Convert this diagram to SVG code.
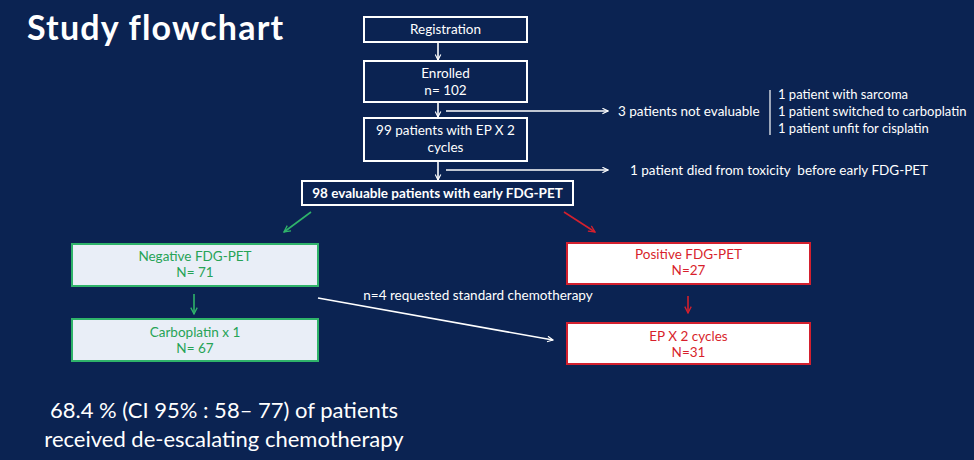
<svg xmlns="http://www.w3.org/2000/svg" width="974" height="460" viewBox="0 0 974 460">
<defs>
<style>
text{font-family:Lato,"Noto Sans","Liberation Sans",sans-serif;}
.w{fill:#ffffff;font-size:13.5px;}
.ws{fill:#ffffff;font-size:13px;}
.c{text-anchor:middle;}
.box{fill:none;stroke:#ffffff;stroke-width:2;}
.gbox{fill:#e9eef7;stroke:#2fb36a;stroke-width:2;}
.rbox{fill:#ffffff;stroke:#d3202e;stroke-width:2;}
.g{fill:#26a356;font-size:13.5px;text-anchor:middle;}
.r{fill:#d81f2c;font-size:13.5px;text-anchor:middle;}
.lw{stroke:#ffffff;stroke-width:1.6;fill:none;}
.lg{stroke:#2fb36a;stroke-width:1.6;fill:none;}
.lr{stroke:#d3202e;stroke-width:1.6;fill:none;}
</style>
<marker id="aw" viewBox="0 0 10 10" refX="9" refY="5" markerWidth="7" markerHeight="7" orient="auto" markerUnits="userSpaceOnUse"><path d="M1,1 L9,5 L1,9" fill="none" stroke="#ffffff" stroke-width="1.6"/></marker>
<marker id="ag" viewBox="0 0 10 10" refX="9" refY="5" markerWidth="8" markerHeight="8" orient="auto" markerUnits="userSpaceOnUse"><path d="M1,1 L9,5 L1,9" fill="none" stroke="#2fb36a" stroke-width="1.6"/></marker>
<marker id="ar" viewBox="0 0 10 10" refX="9" refY="5" markerWidth="8" markerHeight="8" orient="auto" markerUnits="userSpaceOnUse"><path d="M1,1 L9,5 L1,9" fill="none" stroke="#d3202e" stroke-width="1.6"/></marker>
</defs>
<rect x="0" y="0" width="974" height="460" fill="#0b2352"/>
<text x="27" y="40" fill="#ffffff" font-size="34" font-weight="bold" letter-spacing="1.2">Study flowchart</text>

<g id="connectors">
<line class="lw" x1="438" y1="42" x2="438" y2="60" marker-end="url(#aw)"/>
<line class="lw" x1="438" y1="102" x2="438" y2="117" marker-end="url(#aw)"/>
<line class="lw" x1="438" y1="161" x2="438" y2="180" marker-end="url(#aw)"/>
<line class="lw" x1="446" y1="111" x2="608" y2="111" marker-end="url(#aw)"/>
<line class="lw" x1="446" y1="170" x2="608" y2="170" marker-end="url(#aw)"/>
<line class="lg" x1="311" y1="212" x2="284" y2="232" marker-end="url(#ag)"/>
<line class="lr" x1="564" y1="212" x2="595" y2="232" marker-end="url(#ar)"/>
<line class="lg" x1="194" y1="294" x2="194" y2="314" marker-end="url(#ag)"/>
<line class="lr" x1="688" y1="296" x2="688" y2="313" marker-end="url(#ar)"/>
<line class="lw" x1="318" y1="298" x2="553" y2="340" marker-end="url(#aw)"/>
<text class="w c" x="478" y="300">n=4 requested standard chemotherapy</text>
</g>

<g id="registration">
<rect class="box" x="364" y="17" width="163" height="25"/>
<text class="w c" x="445.5" y="34">Registration</text>
</g>
<g id="enrolled">
<rect class="box" x="364" y="61" width="163" height="41"/>
<text class="w c" x="445.5" y="78">Enrolled</text>
<text class="w c" x="445.5" y="95">n= 102</text>
</g>
<g id="ep99">
<rect class="box" x="364" y="118" width="163" height="43"/>
<text class="w c" x="445.5" y="135">99 patients with EP X 2</text>
<text class="w c" x="445.5" y="152">cycles</text>
</g>
<g id="evaluable98">
<rect class="box" x="302" y="181" width="271" height="24"/>
<text class="w c" x="437.5" y="198" font-weight="bold">98 evaluable patients with early FDG-PET</text>
</g>
<g id="notevaluable">
<text class="w" x="618" y="116">3 patients not evaluable</text>
<line x1="770" y1="90" x2="770" y2="135" stroke="#ffffff" stroke-width="1.2"/>
<text class="ws" x="778" y="99">1 patient with sarcoma</text>
<text class="ws" x="778" y="116">1 patient switched to carboplatin</text>
<text class="ws" x="778" y="133">1 patient unfit for cisplatin</text>
</g>
<g id="died">
<text class="w" x="630" y="175" xml:space="preserve">1 patient died from toxicity  before early FDG-PET</text>
</g>
<g id="negative">
<rect class="gbox" x="72" y="244" width="246" height="42"/>
<text class="g" x="195" y="261">Negative FDG-PET</text>
<text class="g" x="195" y="277">N= 71</text>
</g>
<g id="carboplatin">
<rect class="gbox" x="72" y="319" width="246" height="42"/>
<text class="g" x="195" y="337">Carboplatin x 1</text>
<text class="g" x="195" y="353">N= 67</text>
</g>
<g id="positive">
<rect class="rbox" x="567" y="243" width="243" height="41"/>
<text class="r" x="688.5" y="259">Positive FDG-PET</text>
<text class="r" x="688.5" y="275">N=27</text>
</g>
<g id="ep2">
<rect class="rbox" x="567" y="323" width="243" height="41"/>
<text class="r" x="688.5" y="341">EP X 2 cycles</text>
<text class="r" x="688.5" y="357">N=31</text>
</g>
<g id="summary">
<text class="c" x="224" y="418" fill="#ffffff" font-size="22">68.4 % (CI 95% : 58– 77) of patients</text>
<text class="c" x="224" y="447" fill="#ffffff" font-size="22">received de-escalating chemotherapy</text>
</g>
</svg>
